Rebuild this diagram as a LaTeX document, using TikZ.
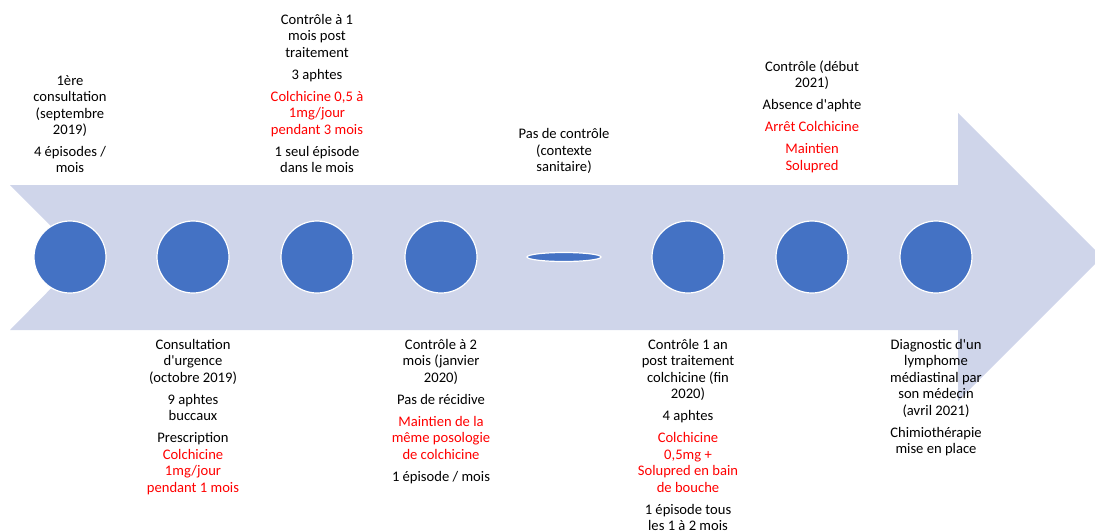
\documentclass[tikz,border=0pt]{standalone}
\usepackage{fontspec}
\setmainfont{Carlito}
\usepackage{xcolor}
\usetikzlibrary{shapes.geometric}
\definecolor{flecheBleu}{HTML}{CFD5EA}
\definecolor{pointBleu}{HTML}{4472C4}
\definecolor{rougeTxt}{HTML}{FF0000}
\newcommand{\rouge}[1]{\textcolor{rougeTxt}{#1}}
\newcommand{\apos}{\textquotesingle}

\begin{document}
\begin{tikzpicture}[x=1pt, y=-1pt,
        every node/.style={font=\fontsize{14.6}{16.5}\selectfont, align=center, inner sep=0pt},
        point/.style={circle, fill=pointBleu, draw=white, line width=1.2pt, minimum size=72pt},
        plat/.style={ellipse, fill=pointBleu, draw=white, line width=1.2pt, minimum width=74pt, minimum height=9pt},
        haut/.style={anchor=south}, bas/.style={anchor=north}]
    \useasboundingbox (0,0) rectangle (1095,531);
    \clip (0,0) rectangle (1095,531);
    % fleche de fond
    \fill[flecheBleu] (10,185) -- (958,185) -- (958,113) -- (1102,257) -- (958,401)
        -- (958,330) -- (10,330) -- (82,257) -- cycle;
    % points de la frise
    \node[point] (c1) at (70,257) {};
    \node[point] (c2) at (193,257) {};
    \node[point] (c3) at (317,257) {};
    \node[point] (c4) at (441,257) {};
    \node[plat]  (c5) at (564,257) {};
    \node[point] (c6) at (688,257) {};
    \node[point] (c7) at (812,257) {};
    \node[point] (c8) at (936,257) {};
    % textes au-dessus
    \node[haut] (t1) at (70,173) {1ère\\consultation\\(septembre\\2019)\\[5pt]4 épisodes /\\mois};
    \node[haut] (t3) at (317,173) {Contrôle à 1\\mois post\\traitement\\[5.5pt]3 aphtes\\[5.5pt]%
        \rouge{Colchicine 0,5 à}\\\rouge{1mg/jour}\\\rouge{pendant 3 mois}\\[5.5pt]1 seul épisode\\dans le mois};
    \node[haut] (t5) at (564,174) {Pas de contrôle\\(contexte\\sanitaire)};
    \node[haut] (t7) at (812,173) {Contrôle (début\\2021)\\[5.5pt]Absence d\apos aphte\\[5.5pt]%
        \rouge{Arrêt Colchicine}\\[5.5pt]\rouge{Maintien}\\\rouge{Solupred}};
    % textes au-dessous
    \node[bas] (b2) at (193,339) {Consultation\\d\apos urgence\\(octobre 2019)\\[5.5pt]9 aphtes\\buccaux\\[5.5pt]%
        Prescription\\\rouge{Colchicine}\\\rouge{1mg/jour}\\\rouge{pendant 1 mois}};
    \node[bas] (b4) at (441,339) {Contrôle à 2\\mois (janvier\\2020)\\[5.5pt]Pas de récidive\\[5.5pt]%
        \rouge{Maintien de la}\\\rouge{même posologie}\\\rouge{de colchicine}\\[5.5pt]1 épisode / mois};
    \node[bas] (b6) at (688,339) {Contrôle 1 an\\post traitement\\colchicine (fin\\2020)\\[5.5pt]4 aphtes\\[5.5pt]%
        \rouge{Colchicine}\\\rouge{0,5mg +}\\\rouge{Solupred en bain}\\\rouge{de bouche}\\[5.5pt]1 épisode tous\\les 1 à 2 mois};
    \node[bas] (b8) at (936,339) {Diagnostic d\apos un\\lymphome\\médiastinal par\\son médecin\\(avril 2021)\\[5.5pt]%
        Chimiothérapie\\mise en place};
\end{tikzpicture}
\end{document}
